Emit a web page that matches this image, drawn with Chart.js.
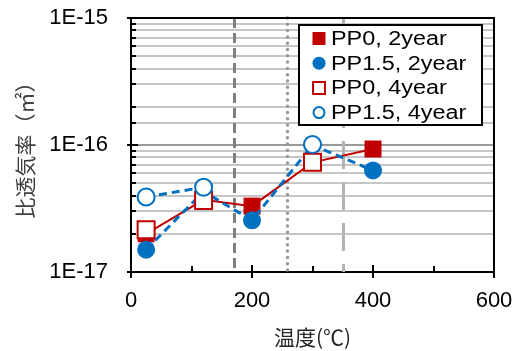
<!DOCTYPE html>
<html>
<head>
<meta charset="utf-8">
<script src="https://cdn.jsdelivr.net/npm/chart.js@4.4.0/dist/chart.umd.min.js"></script>
<style>
  html, body { margin: 0; padding: 0; background: #fff; }
  #wrap { width: 520px; height: 351px; }
</style>
</head>
<body>
<div id="wrap"><canvas id="permChart" width="520" height="351"></canvas></div>
<script>
// 比透気率 - 温度
var temps2y = [25, 120, 200, 300, 400];
var pp0_2y = [2.0e-17, 3.7e-17, 3.3e-17, 7.3e-17, 9.3e-17];
var pp15_2y = [1.5e-17, 4.3e-17, 2.55e-17, 1.0e-16, 6.3e-17];
var temps4y = [25, 120, 300];
var pp0_4y = [2.15e-17, 3.65e-17, 7.3e-17];
var pp15_4y = [3.9e-17, 4.65e-17, 1.01e-16];
var seriesNames = ['PP0, 2year', 'PP1.5, 2year', 'PP0, 4year', 'PP1.5, 4year'];
var xTicks = [0, 200, 400, 600];
var refLines = [170, 258, 350];

var RED = '#C00000', BLUE = '#0070C0';

function pts(xs, ys) {
    return xs.map(function (x, i) { return {x: x, y: ys[i]}; });
}
function isDecade(v) {
    var l = Math.log10(v);
    return Math.abs(l - Math.round(l)) < 1e-6;
}

// vertical reference lines, closed frame and inward tick marks
var frameTicks = {
    id: 'frameTicks',
    beforeDatasetsDraw: function (chart) {
        var c = chart.ctx, a = chart.chartArea, xs = chart.scales.x, ys = chart.scales.y;
        var dashes = [[10, 5], [0, 6.3], [28, 13]];
        var colors = ['#808080', '#999999', '#b3b3b3'];
        c.save();
        refLines.forEach(function (v, i) {
            var x = Math.round(xs.getPixelForValue(v)) + 0.5;
            c.beginPath();
            c.setLineDash(dashes[i]);
            c.lineCap = i === 1 ? 'round' : 'butt';
            c.strokeStyle = colors[i];
            c.lineWidth = i === 1 ? 3.5 : 3;
            c.moveTo(x, a.top);
            c.lineTo(x, a.bottom);
            c.stroke();
        });
        c.setLineDash([]);
        c.lineCap = 'butt';
        c.strokeStyle = '#000';
        c.lineWidth = 2;
        c.beginPath();
        c.moveTo(a.left, a.top);
        c.lineTo(a.right, a.top);
        c.lineTo(a.right, a.bottom);
        ys.ticks.forEach(function (t) {
            var y = Math.round(ys.getPixelForValue(t.value));
            var major = isDecade(t.value);
            c.moveTo(a.left - (major ? 4 : 0), y);
            c.lineTo(a.left + (major ? 7 : 5), y);
        });
        for (var v = xs.min; v <= xs.max; v += 100) {
            var x = Math.round(xs.getPixelForValue(v));
            var major = v % 200 === 0;
            c.moveTo(x, a.bottom - (major ? 7 : 6));
            c.lineTo(x, a.bottom + (major ? 6 : 0));
        }
        c.stroke();
        c.restore();
    }
};

// boxed legend inside the plot
var boxLegend = {
    id: 'boxLegend',
    afterDraw: function (chart) {
        var c = chart.ctx, a = chart.chartArea;
        var x0 = a.right - 195, y0 = a.top + 7, w = 183, h = 100;
        c.save();
        c.fillStyle = '#fff';
        c.fillRect(x0, y0, w, h);
        c.strokeStyle = '#000';
        c.lineWidth = 2;
        c.strokeRect(x0, y0, w, h);
        chart.data.datasets.forEach(function (ds, i) {
            var cy = y0 + 13.5 + i * 24.7, cx = x0 + 20;
            var open = ds.pointBackgroundColor === '#fff';
            c.beginPath();
            if (ds.pointStyle === 'rect') {
                if (open) c.rect(cx - 6, cy - 6, 12, 12);
                else c.rect(cx - 6.5, cy - 6.5, 13, 13);
            } else {
                c.arc(cx, cy, open ? 5.5 : 6.5, 0, Math.PI * 2);
            }
            if (open) {
                c.fillStyle = '#fff';
                c.fill();
                c.strokeStyle = ds.pointBorderColor;
                c.lineWidth = 2;
                c.stroke();
            } else {
                c.fillStyle = ds.pointBackgroundColor;
                c.fill();
            }
            c.save();
            c.translate(x0 + 32, cy + 1);
            c.scale(1.2, 1);
            c.fillStyle = '#000';
            c.font = '19.5px "Liberation Sans", Arial, sans-serif';
            c.textBaseline = 'middle';
            c.fillText(ds.label, 0, 0);
            c.restore();
        });
        c.restore();
    }
};

var ctx = document.getElementById('permChart');
var permChart = new Chart(ctx, {
    type: 'line',
    data: {
        datasets: [{
            label: seriesNames[0],
            data: pts(temps2y, pp0_2y),
            borderColor: RED,
            borderWidth: 2,
            pointStyle: 'rect',
            pointRadius: 12,
            pointBackgroundColor: RED,
            pointBorderColor: RED,
            pointBorderWidth: 0,
            order: 4
        }, {
            label: seriesNames[1],
            data: pts(temps2y, pp15_2y),
            borderColor: BLUE,
            borderWidth: 3,
            borderDash: [8, 5],
            pointStyle: 'circle',
            pointRadius: 9,
            pointBackgroundColor: BLUE,
            pointBorderColor: BLUE,
            pointBorderWidth: 0,
            order: 3
        }, {
            label: seriesNames[2],
            data: pts(temps4y, pp0_4y),
            showLine: false,
            borderColor: RED,
            pointStyle: 'rect',
            pointRadius: 12,
            pointBackgroundColor: '#fff',
            pointBorderColor: RED,
            pointBorderWidth: 2,
            order: 2
        }, {
            label: seriesNames[3],
            data: pts(temps4y, pp15_4y),
            borderColor: BLUE,
            borderWidth: 3,
            borderDash: [8, 5],
            segment: {
                borderColor: function (s) { return s.p1DataIndex > 1 ? 'rgba(0,0,0,0)' : BLUE; }
            },
            pointStyle: 'circle',
            pointRadius: 8.5,
            pointBackgroundColor: '#fff',
            pointBorderColor: BLUE,
            pointBorderWidth: 2,
            order: 1
        }]
    },
    options: {
        responsive: false,
        animation: false,
        clip: false,
        layout: { padding: { top: 18, right: 26, left: 0, bottom: 0 } },
        plugins: {
            legend: { display: false },
            tooltip: { enabled: false }
        },
        scales: {
            x: {
                type: 'linear',
                min: 0,
                max: 600,
                afterBuildTicks: function (s) { s.ticks = xTicks.map(function (v) { return {value: v}; }); },
                afterFit: function (s) {
                    s.height = 79;
                    s.paddingLeft = 0;
                    s.paddingRight = 0;
                },
                grid: { display: true, drawOnChartArea: false, drawTicks: false },
                border: { color: '#000', width: 2 },
                ticks: {
                    color: '#000',
                    padding: 16,
                    maxRotation: 0,
                    font: { family: 'Liberation Sans', size: 22 }
                },
                title: {
                    display: true,
                    text: '温度(℃)',
                    color: '#262626',
                    font: { family: 'Noto Sans CJK JP', size: 21 },
                    padding: { top: 0, bottom: 1 }
                }
            },
            y: {
                type: 'logarithmic',
                min: 1e-17,
                max: 1e-15,
                afterFit: function (s) {
                    s.width = 131;
                    s.paddingTop = 0;
                    s.paddingBottom = 0;
                },
                grid: {
                    drawTicks: false,
                    lineWidth: 2,
                    color: function (c) { return isDecade(c.tick.value) ? '#999999' : '#c6c6c6'; }
                },
                border: { color: '#000', width: 2 },
                ticks: {
                    autoSkip: false,
                    color: '#000',
                    padding: 23,
                    font: { family: 'Liberation Sans', size: 22 },
                    callback: function (v) { return isDecade(v) ? '1E' + Math.round(Math.log10(v)) : ''; }
                },
                title: {
                    display: true,
                    text: '比透気率（㎡）',
                    color: '#404040',
                    font: { family: 'Noto Sans CJK JP', size: 21 },
                    padding: { top: 12, bottom: 0 }
                }
            }
        }
    },
    plugins: [frameTicks, boxLegend]
});
</script>
</body>
</html>
